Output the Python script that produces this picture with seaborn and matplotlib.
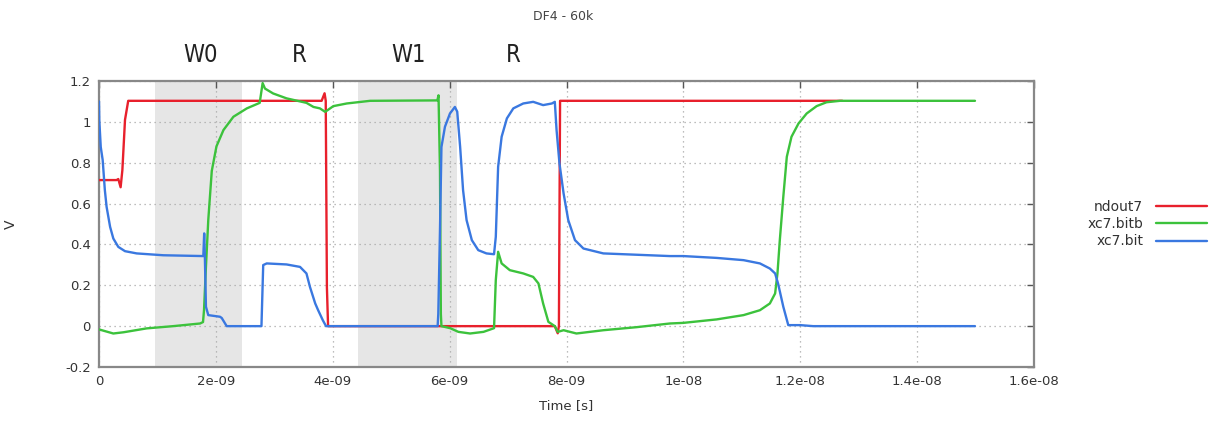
import numpy as np
import pandas as pd
import matplotlib
matplotlib.use("Agg")
import matplotlib.pyplot as plt
import matplotlib.transforms as mtransforms
import seaborn as sns

# ---- waveform samples (time in ns, voltage in V) ----
ndout7_t = [0.0, 0.30, 0.33, 0.37, 0.40, 0.445, 0.50, 3.81, 3.86, 3.88, 3.90, 3.92,
            7.80, 7.85, 7.87, 7.89, 12.72]
ndout7_v = [0.715, 0.715, 0.72, 0.68, 0.764, 1.01, 1.103, 1.103, 1.14, 1.103, 0.19, 0.0,
            0.0, -0.035, 0.0, 1.103, 1.103]

bitb_t = [0.0, 0.245, 0.42, 0.815, 1.27, 1.73, 1.78, 1.797, 1.83, 1.87, 1.93, 2.01,
          2.13, 2.30, 2.53, 2.75, 2.80, 2.84, 2.98, 3.21, 3.55, 3.67, 3.78, 3.87,
          4.01, 4.24, 4.64, 5.79, 5.81, 5.835, 5.85, 5.86, 6.01, 6.15, 6.35, 6.58,
          6.76, 6.79, 6.83, 6.89, 7.03, 7.26, 7.43, 7.52, 7.60, 7.69, 7.80, 7.85,
          7.95, 8.17, 8.63, 9.20, 9.77, 10.0, 10.57, 11.03, 11.31, 11.48, 11.57,
          11.61, 11.65, 11.71, 11.77, 11.85, 11.97, 12.11, 12.28, 12.45, 12.68, 14.99]
bitb_v = [-0.016, -0.036, -0.03, -0.011, 0.0, 0.013, 0.02, 0.078, 0.29, 0.52, 0.76, 0.88,
          0.96, 1.025, 1.066, 1.093, 1.19, 1.163, 1.139, 1.115, 1.093, 1.073, 1.066, 1.049,
          1.077, 1.09, 1.103, 1.105, 1.13, 0.76, 0.06, 0.0, -0.01, -0.028, -0.036, -0.028,
          -0.01, 0.225, 0.364, 0.307, 0.274, 0.258, 0.241, 0.209, 0.111, 0.021, 0.0, -0.028,
          -0.02, -0.036, -0.02, -0.005, 0.013, 0.016, 0.033, 0.054, 0.078, 0.111, 0.16,
          0.258, 0.42, 0.633, 0.829, 0.927, 0.992, 1.041, 1.077, 1.096, 1.103, 1.103]

bit_t = [0.0, 0.005, 0.03, 0.063, 0.10, 0.13, 0.19, 0.245, 0.33, 0.445, 0.645, 1.10,
         1.785, 1.80, 1.81, 1.83, 1.87, 2.07, 2.10, 2.185, 2.78, 2.81, 2.87, 3.21, 3.44,
         3.55, 3.61, 3.70, 3.75, 3.83, 3.885, 5.795, 5.806, 5.835, 5.86, 5.92, 6.006,
         6.09, 6.13, 6.18, 6.23, 6.29, 6.38, 6.49, 6.63, 6.76, 6.79, 6.83, 6.89, 6.98,
         7.09, 7.26, 7.43, 7.60, 7.75, 7.80, 7.83, 7.88, 7.95, 8.03, 8.145, 8.29, 8.63,
         9.77, 10.0, 10.57, 11.03, 11.31, 11.48, 11.57, 11.62, 11.71, 11.795, 12.0,
         12.22, 14.99]
bit_v = [1.10, 1.008, 0.877, 0.813, 0.666, 0.584, 0.486, 0.429, 0.388, 0.367, 0.356, 0.347,
         0.343, 0.454, 0.36, 0.095, 0.054, 0.046, 0.04, 0.0, 0.0, 0.299, 0.307, 0.302, 0.29,
         0.258, 0.192, 0.111, 0.078, 0.029, 0.0, 0.0, 0.06, 0.47, 0.877, 0.976, 1.041,
         1.073, 1.05, 0.877, 0.666, 0.519, 0.421, 0.372, 0.356, 0.352, 0.437, 0.78, 0.927,
         1.017, 1.066, 1.09, 1.098, 1.082, 1.09, 1.098, 0.96, 0.796, 0.65, 0.519, 0.421,
         0.38, 0.356, 0.343, 0.343, 0.334, 0.323, 0.307, 0.282, 0.258, 0.209, 0.095,
         0.005, 0.005, 0.0, 0.0]

series_names = ["ndout7", "xc7.bitb", "xc7.bit"]
series_colors = ["#e8202c", "#3cc23c", "#3a78e0"]

# operation windows (ns) and phase labels
shade_spans = [(0.95, 2.45), (4.44, 6.12)]
phase_labels = ["W0", "R", "W1", "R"]
phase_label_t = [1.73, 3.42, 5.29, 7.09]

x_ticks_ns = [0, 2, 4, 6, 8, 10, 12, 14, 16]
x_tick_labels = ["0", "2e-09", "4e-09", "6e-09", "8e-09", "1e-08", "1.2e-08", "1.4e-08", "1.6e-08"]
y_ticks = [-0.2, 0, 0.2, 0.4, 0.6, 0.8, 1, 1.2]
y_tick_labels = ["-0.2", "0", "0.2", "0.4", "0.6", "0.8", "1", "1.2"]

# ---- long-form table for seaborn ----
frames = []
for name, t, v in zip(series_names, [ndout7_t, bitb_t, bit_t], [ndout7_v, bitb_v, bit_v]):
    frames.append(pd.DataFrame({"time": np.asarray(t) * 1e-9, "volt": v, "signal": name}))
df = pd.concat(frames, ignore_index=True)

sns.set_theme(style="white")
plt.rcParams["font.family"] = ["DejaVu Sans"]

fig = plt.figure(figsize=(12.18, 4.30), dpi=100)
ax = fig.add_axes([99 / 1218, 1 - 367 / 430, (1034 - 99) / 1218, (367 - 81) / 430])

for lo, hi in shade_spans:
    ax.axvspan(lo * 1e-9, hi * 1e-9, color="#e6e6e6", lw=0, zorder=0)

sns.lineplot(data=df, x="time", y="volt", hue="signal", hue_order=series_names,
             palette=dict(zip(series_names, series_colors)), estimator=None, sort=False,
             errorbar=None, lw=1.7, ax=ax, zorder=3)

ax.set_xlim(0, 16e-9)
ax.set_ylim(-0.2, 1.2)
ax.set_xticks(np.asarray(x_ticks_ns) * 1e-9)
ax.set_xticklabels(x_tick_labels)
ax.set_yticks(y_ticks)
ax.set_yticklabels(y_tick_labels)
ax.tick_params(direction="in", length=5, width=1, colors="#555555", labelcolor="#333333",
               labelsize=9.5, top=True, right=True, pad=6)
ax.grid(True, color="#a8a8a8", linestyle=(0, (1, 3)), linewidth=0.9, zorder=1)
ax.set_axisbelow(True)
for sp in ax.spines.values():
    sp.set_color("#888888")
    sp.set_linewidth(1.6)

ax.set_xlabel("Time [s]", fontsize=9.5, color="#333333", labelpad=8)
ax.set_ylabel("V", fontsize=10, color="#333333")
ax.yaxis.set_label_coords((18 - 99) / 935, 0.5)

leg = ax.legend(loc="center right", bbox_to_anchor=(1207 / 1218, 1 - 224 / 430),
                bbox_transform=fig.transFigure, frameon=False, markerfirst=False,
                fontsize=10, handlelength=3.7, handletextpad=0.9, labelspacing=0.25,
                borderpad=0, borderaxespad=0)
for txt in leg.get_texts():
    txt.set_color("#333333")

fig.text(563 / 1218, 1 - 17 / 430, "DF4 - 60k", ha="center", va="center",
         fontsize=9, color="#444444")

lab_tr = mtransforms.blended_transform_factory(ax.transData, fig.transFigure)
for lab, t in zip(phase_labels, phase_label_t):
    ax.text(t * 1e-9, 1 - 55 / 430, lab, transform=lab_tr, ha="center", va="center",
            fontsize=17, color="#222222", family="DejaVu Sans", fontstretch="condensed")

fig.savefig("out.png", dpi=100)
